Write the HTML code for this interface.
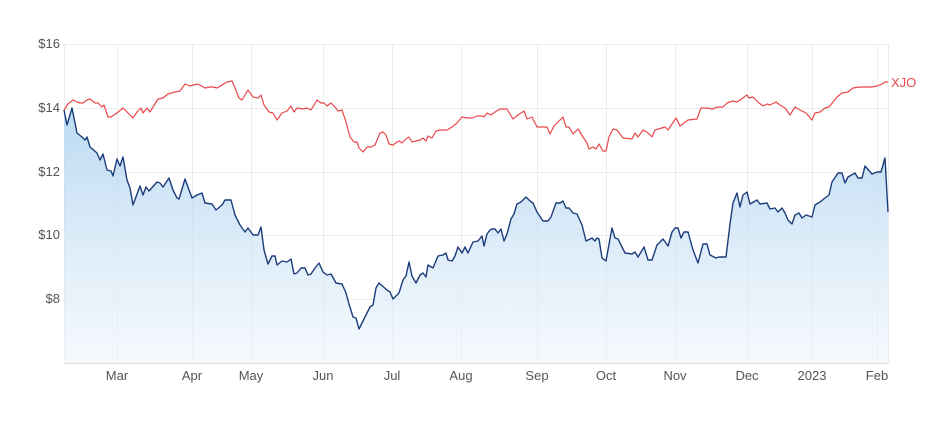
<!DOCTYPE html>
<html><head><meta charset="utf-8"><style>
body{margin:0;background:#fff;}
svg{display:block;font-family:"Liberation Sans",sans-serif;}
</style></head><body>
<svg width="942" height="423" viewBox="0 0 942 423">
<defs><linearGradient id="g" x1="0" y1="0" x2="0" y2="1">
<stop offset="0" stop-color="#a9d0ef" stop-opacity="0.8"/>
<stop offset="1" stop-color="#eef5fc" stop-opacity="0.6"/>
</linearGradient></defs>
<g stroke="#ececec" stroke-width="1">
<line x1="64" y1="44.5" x2="888" y2="44.5"/>
<line x1="64" y1="108.5" x2="888" y2="108.5"/>
<line x1="64" y1="172.5" x2="888" y2="172.5"/>
<line x1="64" y1="235.5" x2="888" y2="235.5"/>
<line x1="64" y1="299.5" x2="888" y2="299.5"/>
<line x1="117.5" y1="44" x2="117.5" y2="363"/>
<line x1="192.5" y1="44" x2="192.5" y2="363"/>
<line x1="251.5" y1="44" x2="251.5" y2="363"/>
<line x1="323.5" y1="44" x2="323.5" y2="363"/>
<line x1="392.5" y1="44" x2="392.5" y2="363"/>
<line x1="461.5" y1="44" x2="461.5" y2="363"/>
<line x1="537.5" y1="44" x2="537.5" y2="363"/>
<line x1="606.5" y1="44" x2="606.5" y2="363"/>
<line x1="675.5" y1="44" x2="675.5" y2="363"/>
<line x1="747.5" y1="44" x2="747.5" y2="363"/>
<line x1="812.5" y1="44" x2="812.5" y2="363"/>
<line x1="877.5" y1="44" x2="877.5" y2="363"/>
<line x1="64.5" y1="44" x2="64.5" y2="363"/>
<line x1="888.5" y1="44" x2="888.5" y2="363"/>
</g>
<line x1="64" y1="363.5" x2="888" y2="363.5" stroke="#dcdcdc"/>
<polygon fill="url(#g)" points="64,363 64,110 67,125 72,108 77,133 82,137 85,140 87,137 90,147 97,153 100,160 103,154 107,170 111,171 113,176 117,159 120,166 123,157 127,180 130,188 133,205 140,186 143,195 146,187 149,191 157,182 160,183 163,187 169,178 173,190 177,198 179,199 185,179 192,198 197,195 202,193 205,203 212,204 216,210 222,205 225,200 231,200 235,215 240,225 245,232 248,228 253,235 258,235 261,227 264,250 268,264 272,256 275,256 277,265 282,261 287,262 291,259 294,274 297,273 301,268 305,268 308,275 311,274 315,268 319,263 323,272 327,275 331,274 336,283 342,284 346,293 349,304 353,317 356,318 359,329 365,317 370,307 373,305 376,288 379,283 387,290 390,292 393,299 395,297 399,293 403,280 406,276 409,262 412,276 416,283 420,275 423,273 426,277 428,265 433,268 438,256 443,255 446,253 448,260 452,261 455,256 458,247 462,253 465,247 468,253 473,242 478,241 482,236 484,246 487,234 490,230 492,229 495,229 498,233 501,229 504,241 507,234 511,219 514,214 517,204 521,202 526,197 530,201 533,203 537,212 543,221 548,221 551,217 556,203 560,203 563,201 566,208 569,208 573,213 577,214 582,225 586,241 592,238 595,241 597,238 599,239 602,258 606,261 612,228 615,238 618,239 625,253 632,254 635,252 638,257 644,247 648,260 652,260 657,245 663,239 668,246 672,232 675,228 678,228 681,238 684,232 688,232 693,250 698,263 703,244 707,244 710,255 716,258 719,257 726,257 730,224 733,203 737,193 740,207 743,195 747,192 750,204 757,200 760,204 767,203 770,209 775,208 778,212 782,208 785,213 788,220 792,224 795,215 799,213 802,218 806,215 812,217 815,205 820,202 825,198 829,195 832,182 838,173 842,173 845,183 848,177 855,173 858,178 862,178 865,166 872,174 877,172 881,172 885,158 888,212 888,363"/>
<polyline fill="none" stroke="#1b3c7a" stroke-width="1.4" stroke-linejoin="round" points="64,110 67,125 72,108 77,133 82,137 85,140 87,137 90,147 97,153 100,160 103,154 107,170 111,171 113,176 117,159 120,166 123,157 127,180 130,188 133,205 140,186 143,195 146,187 149,191 157,182 160,183 163,187 169,178 173,190 177,198 179,199 185,179 192,198 197,195 202,193 205,203 212,204 216,210 222,205 225,200 231,200 235,215 240,225 245,232 248,228 253,235 258,235 261,227 264,250 268,264 272,256 275,256 277,265 282,261 287,262 291,259 294,274 297,273 301,268 305,268 308,275 311,274 315,268 319,263 323,272 327,275 331,274 336,283 342,284 346,293 349,304 353,317 356,318 359,329 365,317 370,307 373,305 376,288 379,283 387,290 390,292 393,299 395,297 399,293 403,280 406,276 409,262 412,276 416,283 420,275 423,273 426,277 428,265 433,268 438,256 443,255 446,253 448,260 452,261 455,256 458,247 462,253 465,247 468,253 473,242 478,241 482,236 484,246 487,234 490,230 492,229 495,229 498,233 501,229 504,241 507,234 511,219 514,214 517,204 521,202 526,197 530,201 533,203 537,212 543,221 548,221 551,217 556,203 560,203 563,201 566,208 569,208 573,213 577,214 582,225 586,241 592,238 595,241 597,238 599,239 602,258 606,261 612,228 615,238 618,239 625,253 632,254 635,252 638,257 644,247 648,260 652,260 657,245 663,239 668,246 672,232 675,228 678,228 681,238 684,232 688,232 693,250 698,263 703,244 707,244 710,255 716,258 719,257 726,257 730,224 733,203 737,193 740,207 743,195 747,192 750,204 757,200 760,204 767,203 770,209 775,208 778,212 782,208 785,213 788,220 792,224 795,215 799,213 802,218 806,215 812,217 815,205 820,202 825,198 829,195 832,182 838,173 842,173 845,183 848,177 855,173 858,178 862,178 865,166 872,174 877,172 881,172 885,158 888,212"/>
<polyline fill="none" stroke="#e8484c" stroke-width="1.2" stroke-linejoin="round" points="64,110 68,104 73,100 77,102 80,103 83,103 87,100 90,99 95,103 98,103 102,107 104,105 108,117 111,117 117,113 123,108 128,113 133,118 137,112 141,108 143,113 147,108 150,112 158,99 163,98 168,94 175,92 180,91 185,84 190,86 193,85 198,84 205,88 210,87 213,87 217,88 222,85 227,82 232,81 235,88 239,98 242,100 248,90 253,97 258,98 261,95 264,105 269,112 273,113 277,120 282,113 287,111 291,106 294,112 297,108 303,109 307,108 311,110 317,100 321,103 324,103 327,106 331,103 335,107 338,111 342,110 346,122 350,137 354,142 357,142 359,148 363,152 367,147 371,147 375,145 380,133 383,132 386,135 389,144 393,145 397,142 399,141 402,143 407,138 409,137 412,142 420,140 423,138 426,141 428,136 432,138 436,131 440,130 447,130 452,127 457,123 462,117 467,118 472,118 477,116 482,116 484,117 487,113 491,115 495,112 500,109 507,109 513,119 518,115 524,111 527,119 532,117 537,127 542,127 547,127 550,134 554,126 563,117 566,127 569,127 573,134 578,129 583,137 587,143 589,149 593,147 596,149 599,144 603,151 606,151 609,137 613,129 617,130 623,138 632,139 635,133 638,137 643,130 647,132 652,137 655,130 665,127 668,130 676,118 680,126 684,123 688,120 697,119 701,108 707,108 712,109 718,107 723,107 727,103 733,101 737,102 740,100 747,95 749,98 753,97 759,103 763,106 767,104 770,105 776,102 780,105 785,108 790,115 795,107 800,110 806,113 812,120 815,113 820,112 825,108 829,107 833,102 837,97 842,93 848,92 853,88 860,87 867,87 872,87 877,86 882,84 885,82 888,82"/>
<text x="891" y="87" fill="#e8484c" font-size="13">XJO</text>
<g fill="#555" font-size="13" text-anchor="end">
<text x="60" y="48">$16</text>
<text x="60" y="112">$14</text>
<text x="60" y="176">$12</text>
<text x="60" y="239">$10</text>
<text x="60" y="303">$8</text>
</g>
<g fill="#555" font-size="13" text-anchor="middle">
<text x="117" y="380">Mar</text>
<text x="192" y="380">Apr</text>
<text x="251" y="380">May</text>
<text x="323" y="380">Jun</text>
<text x="392" y="380">Jul</text>
<text x="461" y="380">Aug</text>
<text x="537" y="380">Sep</text>
<text x="606" y="380">Oct</text>
<text x="675" y="380">Nov</text>
<text x="747" y="380">Dec</text>
<text x="812" y="380">2023</text>
<text x="877" y="380">Feb</text>
</g>
</svg>
</body></html>
